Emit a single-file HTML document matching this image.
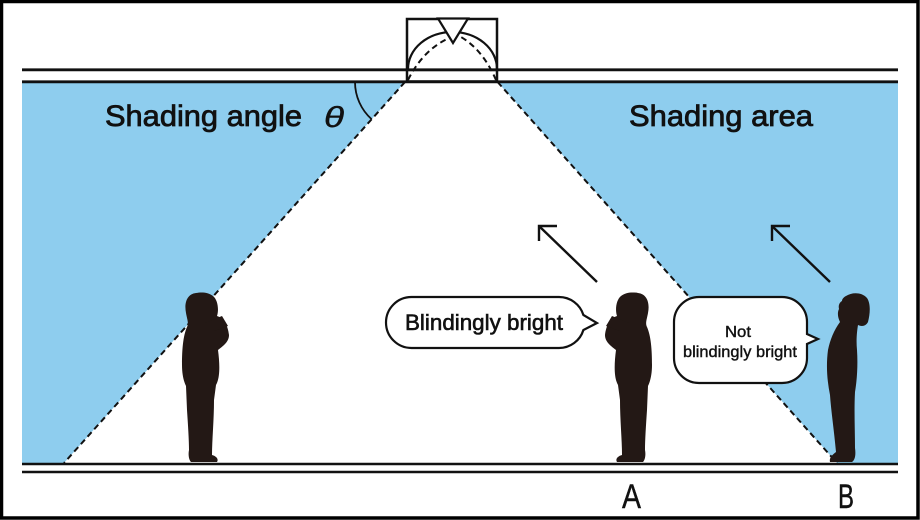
<!DOCTYPE html>
<html>
<head>
<meta charset="utf-8">
<style>
  html,body{margin:0;padding:0;background:#fff;}
  body{width:920px;height:520px;overflow:hidden;}
  svg{display:block;}
  text{font-family:"Liberation Sans", Arial, sans-serif;fill:#111;}
</style>
</head>
<body>
<svg width="920" height="520" viewBox="0 0 920 520" xmlns="http://www.w3.org/2000/svg">
  <rect x="0" y="0" width="920" height="520" fill="#fff"/>

  <!-- blue shading areas -->
  <polygon points="22,82 405,82 64,463 22,463" fill="#8ecdee"/>
  <polygon points="497.6,82 898,82 898,463 837,463" fill="#8ecdee"/>

  <!-- ceiling & floor double lines -->
  <line x1="22" y1="69.8" x2="898" y2="69.8" stroke="#111" stroke-width="2.8"/>
  <line x1="22" y1="81.8" x2="898" y2="81.8" stroke="#111" stroke-width="2.8"/>
  <line x1="22" y1="464" x2="898" y2="464" stroke="#111" stroke-width="2.6"/>
  <line x1="22" y1="472" x2="898" y2="472" stroke="#111" stroke-width="2.6"/>

  <!-- lamp box -->
  <rect x="407" y="19" width="90" height="62.5" fill="none" stroke="#111" stroke-width="2.5"/>
  <line x1="407" y1="69.8" x2="497" y2="69.8" stroke="#111" stroke-width="2.6"/>
  <path d="M 408 69 A 44.5 37 0 0 1 497 69" fill="none" stroke="#111" stroke-width="2.2"/>
  <path d="M 408 80 Q 423 50 449 38" fill="none" stroke="#111" stroke-width="2" stroke-dasharray="6 4"/>
  <path d="M 496 80 Q 483 50 461 37" fill="none" stroke="#111" stroke-width="2" stroke-dasharray="6 4"/>
  <polygon points="438,18.5 468,18.5 453,43" fill="#fff" stroke="#111" stroke-width="2.2" stroke-linejoin="miter"/>

  <!-- dashed boundary lines -->
  <line x1="405" y1="82" x2="64" y2="463" stroke="#111" stroke-width="2" stroke-dasharray="6 4"/>
  <line x1="497.6" y1="82" x2="837" y2="463" stroke="#111" stroke-width="2" stroke-dasharray="6 4"/>

  <!-- angle arc -->
  <path d="M 355 82 A 50 50 0 0 0 371.7 119.3" fill="none" stroke="#111" stroke-width="1.8"/>

  <!-- labels -->
  <text x="105" y="126" font-size="30" textLength="197" lengthAdjust="spacingAndGlyphs" stroke="#111" stroke-width="0.8">Shading angle</text>
  <text x="324" y="127" font-size="29" font-style="italic" textLength="20" lengthAdjust="spacingAndGlyphs" stroke="#111" stroke-width="0.4">θ</text>
  <text x="629" y="126" font-size="30" textLength="184" lengthAdjust="spacingAndGlyphs" stroke="#111" stroke-width="0.8">Shading area</text>

  <!-- arrows -->
  <line x1="597" y1="282" x2="539" y2="226" stroke="#111" stroke-width="2.4"/>
  <polyline points="557,226 539,226 539,241" fill="none" stroke="#111" stroke-width="2.4"/>
  <line x1="830" y1="282" x2="772" y2="226" stroke="#111" stroke-width="2.4"/>
  <polyline points="790,226 772,226 772,241" fill="none" stroke="#111" stroke-width="2.4"/>

  <!-- figure 1 (left kid, faces right) -->
  <g fill="#231815">
    <path d="M 196 293 C 187 294 184 303 186 313 C 187 319 189 323 187 327 C 183 336 182 350 182 365 C 182 375 184 382 186 386 L 187 410 C 188 425 189 440 189 450 C 188 455 189 460 191 462 L 217 462 C 219 459 216 456 212 455 C 212 440 214 420 214 400 L 216 385 C 220 378 220 365 218 350 C 223 346 229 342 229 335 C 228 326 224 318 217 316 C 219 310 218 300 213 296 C 208 292 201 292 196 293 Z"/>
    <path d="M 205 323 L 222 316 L 228 326 L 214 331 Z"/>
  </g>
  <!-- figure 2 (A, mirrored kid) -->
  <g transform="translate(834,0) scale(-1,1)" fill="#231815">
    <path d="M 196 293 C 187 294 184 303 186 313 C 187 319 189 323 187 327 C 183 336 182 350 182 365 C 182 375 184 382 186 386 L 187 410 C 188 425 189 440 189 450 C 188 455 189 460 191 462 L 217 462 C 219 459 216 456 212 455 C 212 440 214 420 214 400 L 216 385 C 220 378 220 365 218 350 C 223 346 229 342 229 335 C 228 326 224 318 217 316 C 219 310 218 300 213 296 C 208 292 201 292 196 293 Z"/>
    <path d="M 205 323 L 222 316 L 228 326 L 214 331 Z"/>
  </g>
  <!-- figure 3 (B, adult looking up) -->
  <path fill="#231815" d="M 846 296 C 852 292 862 292 867 298 C 871 304 870 314 868 322 C 866 326 862 327 858 325 C 857 331 856 340 857 350 C 858 365 857 380 855 392 C 854 410 855 430 855 448 C 856 455 855 460 852 462 L 830 462 C 829 458 832 455 836 452 C 834 430 831 410 830 395 C 827 380 826 365 828 350 C 830 340 834 330 840 322 C 838 318 837 313 839 309 C 838 305 840 302 842 301 C 842 299 844 297 846 296 Z"/>

  <!-- bubble 1 -->
  <path d="M 411.5 297 H 559 A 25.5 25.5 0 0 1 583.4 315 L 597 323 L 583.4 330 A 25.5 25.5 0 0 1 559 348 H 411.5 A 25.5 25.5 0 0 1 411.5 297 Z" fill="#fff" stroke="#111" stroke-width="2.2" stroke-linejoin="miter"/>
  <text x="405" y="330" font-size="22" textLength="158" lengthAdjust="spacingAndGlyphs" stroke="#111" stroke-width="0.6">Blindingly bright</text>

  <!-- bubble 2 -->
  <path d="M 699 297 H 782 A 25 25 0 0 1 807 322 V 334 L 818 339 L 807 344 V 358 A 25 25 0 0 1 782 383 H 699 A 25 25 0 0 1 674 358 V 322 A 25 25 0 0 1 699 297 Z" fill="#fff" stroke="#111" stroke-width="2.2" stroke-linejoin="miter"/>
  <text x="725" y="337" font-size="16" textLength="26" lengthAdjust="spacingAndGlyphs" stroke="#111" stroke-width="0.4">Not</text>
  <text x="683" y="357" font-size="16" textLength="114" lengthAdjust="spacingAndGlyphs" stroke="#111" stroke-width="0.4">blindingly bright</text>

  <!-- A / B labels -->
  <text x="622" y="508" font-size="34" textLength="19" lengthAdjust="spacingAndGlyphs" stroke="#111" stroke-width="0.4">A</text>
  <text x="838" y="508" font-size="34" textLength="16" lengthAdjust="spacingAndGlyphs" stroke="#111" stroke-width="0.4">B</text>

  <!-- outer frame -->
  <rect x="1.5" y="1.5" width="916.5" height="516.5" fill="none" stroke="#000" stroke-width="3.5"/>
</svg>
</body>
</html>
